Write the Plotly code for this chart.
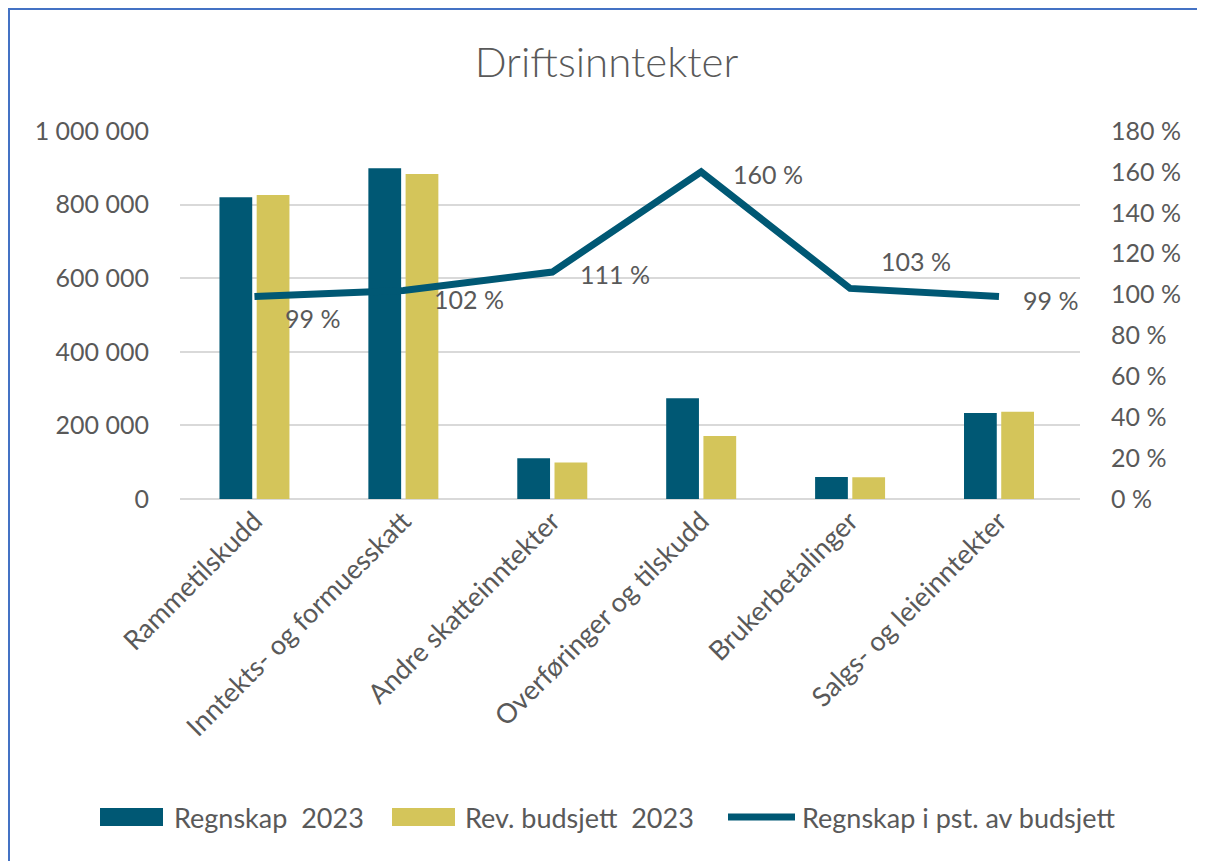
import plotly.graph_objects as go

categories = ["Rammetilskudd", "Inntekts- og formuesskatt", "Andre skatteinntekter",
              "Overføringer og tilskudd", "Brukerbetalinger", "Salgs- og leieinntekter"]
regnskap_2023 = [820000, 899000, 111000, 274000, 60000, 234000]
rev_budsjett_2023 = [826000, 883000, 99000, 171000, 59000, 237000]
pst_av_budsjett = [99, 102, 111, 160, 103, 99]
pct_labels = ["99 %", "102 %", "111 %", "160 %", "103 %", "99 %"]
series_names = ["Regnskap  2023", "Rev. budsjett  2023", "Regnskap i pst. av budsjett"]

left_ticks = [0, 200000, 400000, 600000, 800000, 1000000]
right_ticks = [0, 20, 40, 60, 80, 100, 120, 140, 160, 180]
right_ticktext = ["0 %", "20 %", "40 %", "60 %", "80 %", "100 %", "120 %", "140 %", "160 %", "180 %"]

# label offsets (pixels) for the percentage labels
label_xshift = [29, 29, 26, 30, 29, 22]
label_yshift = [-21, -9, -2, -2, 27, -3]

BLUE = "#005874"
YELLOW = "#d4c55a"
GRAY = "#595959"
FONT = "Lato, Open Sans, sans-serif"
FS = 25

# page is offset by 8px body margin
W, H = 1197, 853
L, R, T, B = 172, 125, 123, 362
PW, PH = W - L - R, H - T - B


def py(fy):
    return (T + PH - fy) / PH


def px(fx):
    return (fx - L) / PW


fig = go.Figure()
fig.add_trace(go.Bar(x=categories, y=regnskap_2023, name=series_names[0],
                     marker=dict(color=BLUE, line=dict(width=0))))
fig.add_trace(go.Bar(x=categories, y=rev_budsjett_2023, name=series_names[1],
                     marker=dict(color=YELLOW, line=dict(width=0))))
fig.add_trace(go.Scatter(x=categories, y=pst_av_budsjett, name=series_names[2],
                         yaxis="y2", mode="lines",
                         line=dict(color=BLUE, width=7)))

annotations = []
for c, v, t, xs, ys in zip(categories, pst_av_budsjett, pct_labels, label_xshift, label_yshift):
    annotations.append(dict(x=c, y=v, xref="x", yref="y2", text=t, showarrow=False,
                            xanchor="left", yanchor="middle", xshift=xs, yshift=ys,
                            font=dict(size=FS, color=GRAY, family=FONT)))

# custom legend (figure pixel coordinates)
leg_y = 809
shapes = [dict(type="rect", xref="paper", yref="paper",
               x0=px(1), x1=px(W - 2), y0=py(H + 20), y1=py(1),
               line=dict(color="#4472c4", width=2), fillcolor="rgba(0,0,0,0)", layer="below"),
          dict(type="rect", xref="paper", yref="paper", x0=px(92), x1=px(155),
               y0=py(leg_y + 9), y1=py(leg_y - 9), fillcolor=BLUE, line=dict(width=0)),
          dict(type="rect", xref="paper", yref="paper", x0=px(384), x1=px(447),
               y0=py(leg_y + 9), y1=py(leg_y - 9), fillcolor=YELLOW, line=dict(width=0)),
          dict(type="line", xref="paper", yref="paper", x0=px(720), x1=px(787),
               y0=py(leg_y), y1=py(leg_y), line=dict(color=BLUE, width=7))]
for name, lx in zip(series_names, [164, 455, 792]):
    annotations.append(dict(x=px(lx), y=py(leg_y), xref="paper", yref="paper", text=name,
                            showarrow=False, xanchor="left", yanchor="middle",
                            font=dict(size=27, color=GRAY, family=FONT)))

fig.update_layout(
    width=W, height=H,
    margin=dict(l=L, r=R, t=T, b=B, autoexpand=False),
    paper_bgcolor="white", plot_bgcolor="white",
    separators=", ",
    font=dict(family=FONT, color=GRAY, size=FS),
    title=dict(text="Driftsinntekter", x=0.5, xanchor="center",
               xref="container", y=1 - 54 / H, yanchor="middle",
               font=dict(size=42, color=GRAY, family=FONT, weight=300)),
    barmode="group", bargap=0.5, bargroupgap=0.12,
    showlegend=False,
    xaxis=dict(tickangle=-45, showgrid=False, showline=False, ticks="",
               tickfont=dict(size=27, color=GRAY, family=FONT)),
    yaxis=dict(range=[0, 1000000], tickvals=left_ticks, tickformat=",d",
               showgrid=True, gridcolor="#d9d9d9", gridwidth=2, zeroline=True,
               zerolinecolor="#d9d9d9", zerolinewidth=2, ticks="", ticklabelstandoff=30,
               tickfont=dict(size=FS, color=GRAY, family=FONT)),
    yaxis2=dict(range=[0, 180], tickvals=right_ticks, ticktext=right_ticktext, overlaying="y",
                side="right", showgrid=False, zeroline=False, ticks="", ticklabelstandoff=30,
                tickfont=dict(size=FS, color=GRAY, family=FONT)),
    annotations=annotations,
    shapes=shapes,
)

fig.write_html("out.html")
